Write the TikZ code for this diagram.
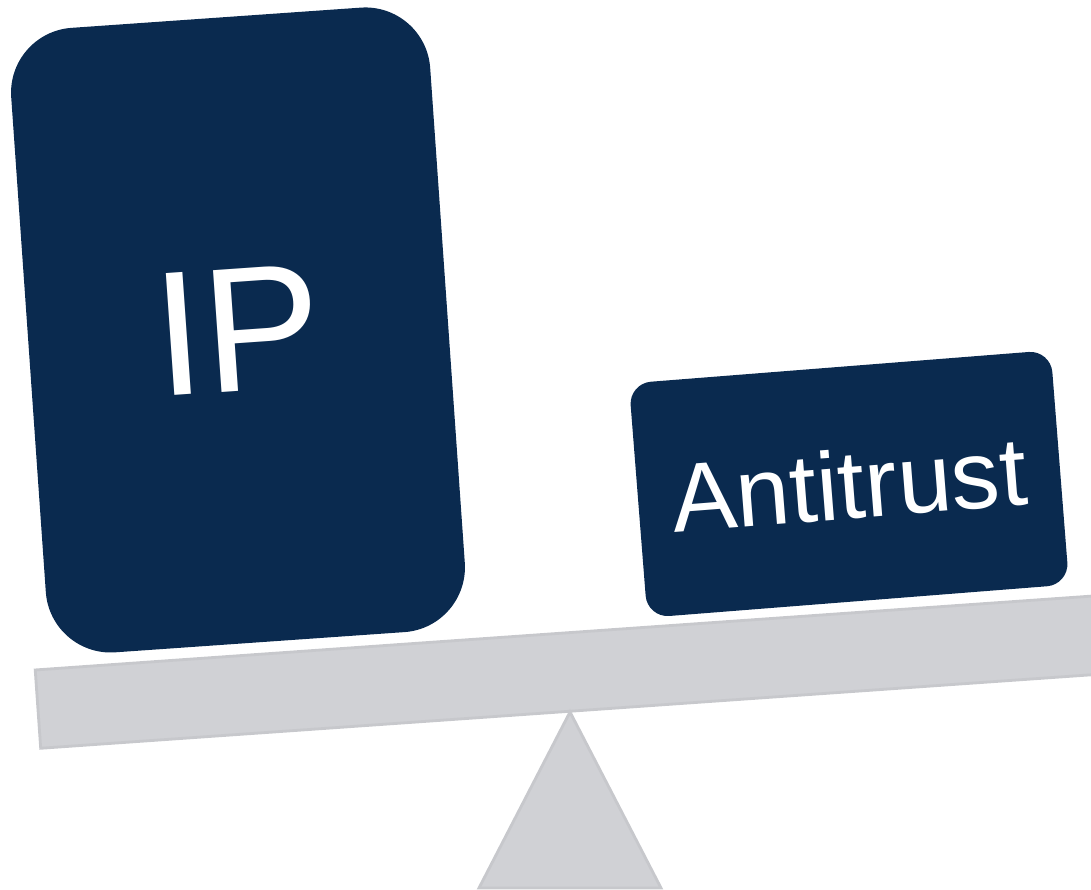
\documentclass[tikz,border=0pt]{standalone}
\usepackage{fontspec}
\setmainfont{Liberation Sans}
\definecolor{navy}{HTML}{0A2A4F}
\definecolor{plankgrey}{HTML}{D0D1D5}
\definecolor{plankedge}{HTML}{C7C8CC}
\tikzset{
  weight/.style={fill=navy, text=white, rounded corners=#1, inner sep=0pt},
  plank/.style={fill=plankgrey, draw=plankedge, line width=0.8pt}
}
\begin{document}
\begin{tikzpicture}

        \clip (0,0) rectangle (10.91,8.90);
        \useasboundingbox (0,0) rectangle (10.91,8.90);
        % seesaw
        \draw[plank, rotate around={4:(0.407,1.417)}] (0.407,1.417) rectangle +(12,0.785);
        \draw[plank] (5.70,1.78) -- (6.61,0.02) -- (4.79,0.02) -- cycle;
        % weights
        \node[weight=0.65cm, minimum width=4.20cm, minimum height=6.26cm, rotate=4,
              font=\fontsize{50.5}{50.5}\selectfont] (ip) at (2.38,5.60) {IP};
        \node[weight=0.22cm, minimum width=4.23cm, minimum height=2.35cm, rotate=4.5,
              font=\fontsize{27.6}{27.6}\selectfont] (antitrust) at (8.49,4.06) {Antitrust};
      \end{tikzpicture}
\end{document}
